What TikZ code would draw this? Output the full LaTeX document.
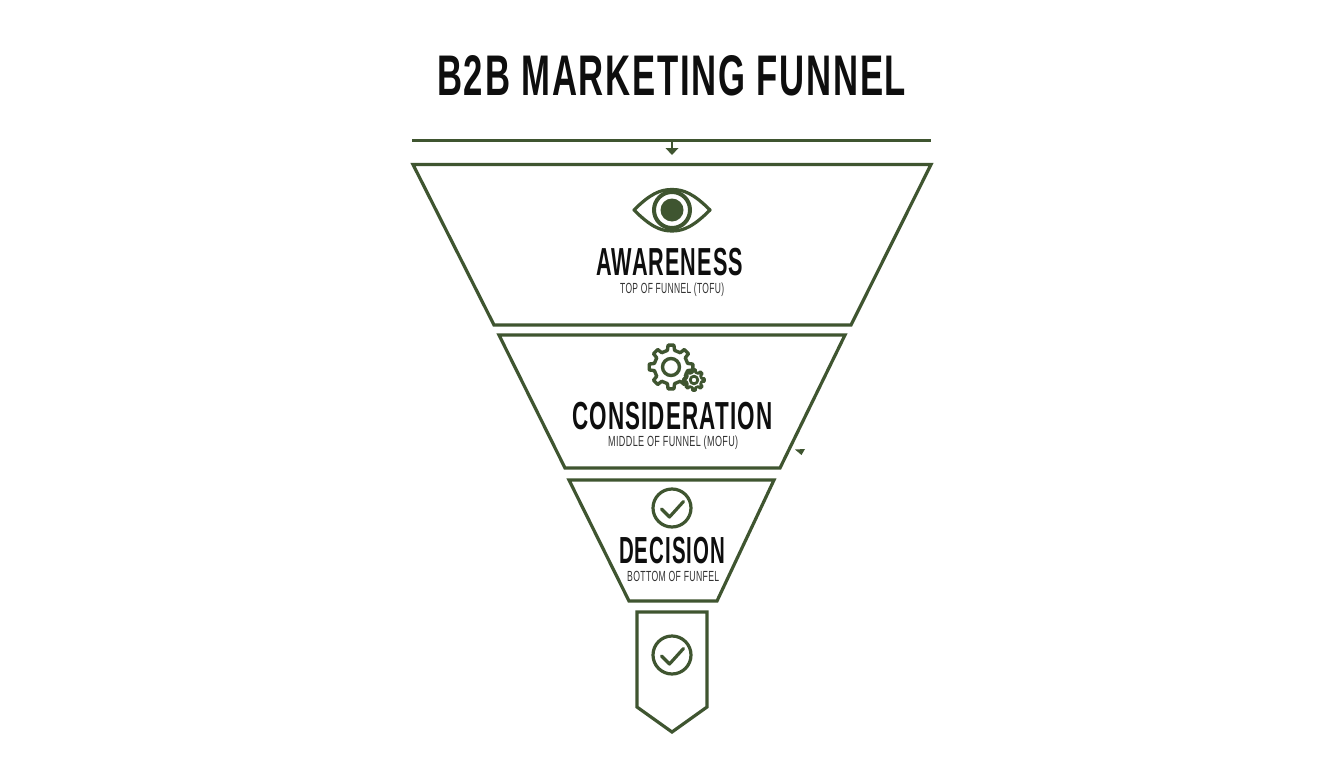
\documentclass[tikz,border=0pt]{standalone}
\usepackage{fontspec}
\setmainfont{Liberation Sans}
\definecolor{fgreen}{HTML}{3F5530}
\definecolor{ink}{HTML}{0E0E0E}
\definecolor{subink}{HTML}{333333}
\newcommand\fittext[3]{\resizebox{#1pt}{#2pt}{\raisebox{0pt}[0.716em][0pt]{#3}}}
\tikzset{
  outline/.style={draw=fgreen,line width=3.2pt,line join=miter,fill=white},
  rule/.style={draw=fgreen,line width=3pt},
  icon/.style={draw=fgreen,line width=3.2pt,line join=round,line cap=round},
  gearline/.style={draw=fgreen,line join=round},
  headtext/.style={anchor=base west,inner sep=0pt,text=ink,font=\bfseries\addfontfeature{LetterSpace=5}},
  subtext/.style={anchor=base west,inner sep=0pt,text=subink,font=\addfontfeature{LetterSpace=4}},
}
\newcommand\gearshape[7]{% cx cy router rinner teeth lw hole
  \pgfmathsetmacro\stepang{360/#5}
  \pgfmathsetmacro\wa{\stepang*0.17}
  \pgfmathsetmacro\wb{\stepang*0.27}
  \pgfmathsetmacro\lastt{#5-1}
  \begin{scope}[shift={(#1,#2)}]
    \draw[gearline,line width=#6pt,fill=white] (-\wb:#4)
      \foreach \t in {0,...,\lastt}{
        -- ({\t*\stepang-\wb}:#4) -- ({\t*\stepang-\wa}:#3)
        -- ({\t*\stepang+\wa}:#3) -- ({\t*\stepang+\wb}:#4)
      } -- cycle;
    \draw[gearline,line width=#6pt] (0,0) circle[radius=#7];
  \end{scope}}
\newcommand\checkcircle[2]{%
  \begin{scope}[shift={(#1,#2)}]
    \draw[icon] (0,0) circle[radius=19];
    \draw[icon] (-10.5,1) -- (-2.5,9) -- (11.5,-6.5);
  \end{scope}}
\begin{document}
\begin{tikzpicture}[x=1pt,y=-1pt]
\useasboundingbox (0,0) rectangle (1344,768);
\fill[white] (0,0) rectangle (1344,768);

\node[headtext] (title) at (437,95.5) {\fittext{469}{41}{B2B MARKETING FUNNEL}};

% top rule and arrow
\coordinate (ruleL) at (412,140);
\coordinate (ruleR) at (931,140);
\coordinate (ruleM) at (672,140);
\coordinate (arrowEnd) at (672,155);
\draw[rule] (ruleL) -- (ruleR);
\draw[draw=fgreen,line width=2.4pt] (ruleM) -- (672,149);
\fill[fgreen] (665.5,148) -- (678.5,148) -- (arrowEnd) -- cycle;

% funnel
\draw[outline] (413,164.5) -- (931,164.5) -- (851,325) -- (494,325) -- cycle;
\draw[outline] (499,335) -- (845,335) -- (780,468) -- (565,468) -- cycle;
\draw[outline] (569,480) -- (774,480) -- (717,601) -- (629,601) -- cycle;
\draw[outline] (637,612) -- (707,612) -- (707,707) -- (672,732) -- (637,707) -- cycle;

% eye
\draw[icon] (634,210) .. controls (650,194) and (660,189.5) .. (672,189.5)
  .. controls (684,189.5) and (694,194) .. (710,210)
  .. controls (694,226) and (684,231) .. (672,231)
  .. controls (660,231) and (650,226) .. (634,210) -- cycle;
\draw[draw=fgreen,line width=4pt] (672,210) circle[radius=18];
\fill[fgreen] (672,210) circle[radius=11.5];

% gears
\gearshape{671}{367}{22}{17}{8}{3.4}{8.5}
\gearshape{694}{380}{10.5}{7.8}{8}{2.8}{3.8}

% checks
\checkcircle{672}{508}
\checkcircle{672}{655}

% labels
\node[headtext] (awareness) at (596,275) {\fittext{147}{28}{AWARENESS}};
\node[subtext] (tofu) at (620,293.5) {\fittext{104}{10.5}{TOP OF FUNNEL (TOFU)}};
\node[headtext] (consideration) at (572,429) {\fittext{200}{28}{CONSIDERATION}};
\node[subtext] (mofu) at (608,446.5) {\fittext{130}{10.5}{MIDDLE OF FUNNEL (MOFU)}};
\node[headtext] (decision) at (619,563) {\fittext{106}{27}{DECISION}};
\node[subtext] (bofu) at (627,581) {\fittext{92}{10.5}{BOTTOM OF FUNFEL}};

% stray mark
\fill[fgreen] (795,449.5) -- (805,449) -- (801.5,455) -- cycle;
\end{tikzpicture}
\end{document}
